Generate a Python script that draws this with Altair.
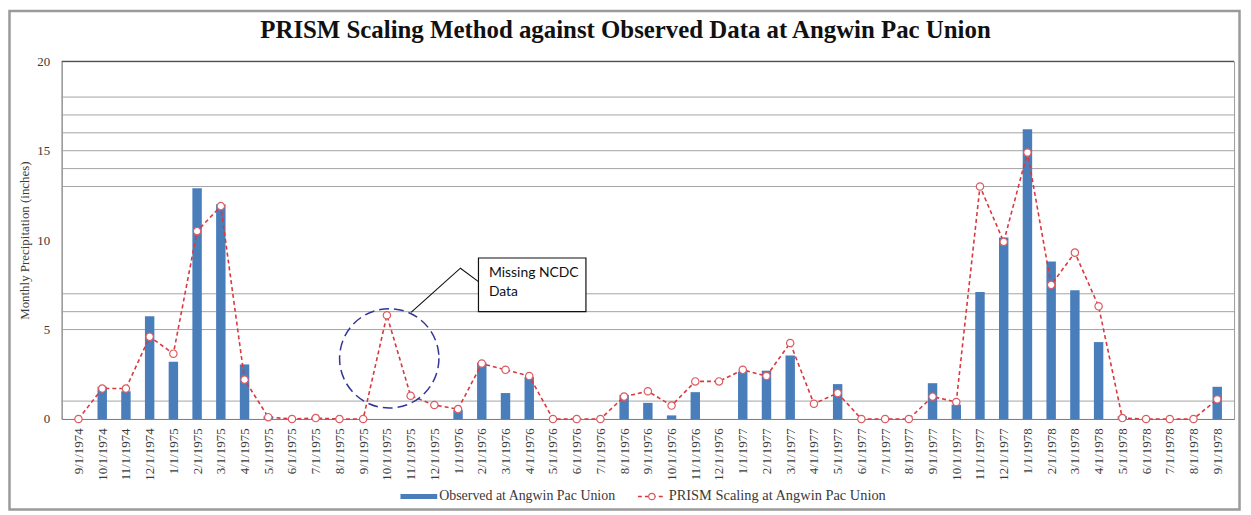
import json
import altair as alt
import pandas as pd

# ---------------- data ----------------
labels = [
    "9/1/1974", "10/1/1974", "11/1/1974", "12/1/1974",
    "1/1/1975", "2/1/1975", "3/1/1975", "4/1/1975", "5/1/1975", "6/1/1975",
    "7/1/1975", "8/1/1975", "9/1/1975", "10/1/1975", "11/1/1975", "12/1/1975",
    "1/1/1976", "2/1/1976", "3/1/1976", "4/1/1976", "5/1/1976", "6/1/1976",
    "7/1/1976", "8/1/1976", "9/1/1976", "10/1/1976", "11/1/1976", "12/1/1976",
    "1/1/1977", "2/1/1977", "3/1/1977", "4/1/1977", "5/1/1977", "6/1/1977",
    "7/1/1977", "8/1/1977", "9/1/1977", "10/1/1977", "11/1/1977", "12/1/1977",
    "1/1/1978", "2/1/1978", "3/1/1978", "4/1/1978", "5/1/1978", "6/1/1978",
    "7/1/1978", "8/1/1978", "9/1/1978",
]
observed = [
    0, 1.8, 1.55, 5.75,
    3.2, 12.9, 12.0, 3.05, 0.15, 0,
    0.05, 0, 0, None, None, None,
    0.5, 3.15, 1.45, 2.35, 0, 0,
    0, 1.35, 0.9, 0.2, 1.5, 0,
    2.65, 2.7, 3.55, 0, 1.95, 0,
    0, 0, 2.0, 0.8, 7.1, 10.15,
    16.2, 8.8, 7.2, 4.3, 0.15, 0,
    0, 0, 1.8,
]
prism = [
    0, 1.7, 1.7, 4.6,
    3.65, 10.5, 11.9, 2.2, 0.1, 0,
    0.05, 0, 0, 5.8, 1.3, 0.78,
    0.55, 3.1, 2.75, 2.4, 0, 0,
    0, 1.25, 1.55, 0.75, 2.1, 2.1,
    2.75, 2.4, 4.25, 0.85, 1.45, 0,
    0, 0, 1.25, 0.95, 13.0, 9.9,
    14.9, 7.5, 9.3, 6.3, 0.05, 0,
    0, 0, 1.1,
]
y_ticks = [0, 5, 10, 15, 20]
grid_light = [1, 5, 6, 7, 13, 14, 15, 16, 17, 18]
grid_dark = [20]

title_text = "PRISM Scaling Method against Observed Data at Angwin Pac Union"
obs_name = "Observed at Angwin Pac Union"
prism_name = "PRISM Scaling at Angwin Pac Union"
y_title = "Monthly Precipitation (inches)"
note_lines = ["Missing NCDC", "Data"]
# annotation anchors in data units (month index, inches)
note_circle = {"i": 13.1, "v": 3.39}
note_pointer = [(14.02, 5.96), (16.10, 8.43), (16.86, 7.68)]
note_box = {"i": 16.86, "i2": 21.39, "v": 6.0, "v2": 9.0}
note_text_i = 17.3
note_text_v = [8.17, 7.11]

# ---------------- tables ----------------
idx = list(range(len(labels)))
df = pd.DataFrame({"i": idx, "label": labels, "obs": observed, "prism": prism})
df_obs = df.dropna(subset=["obs"])
one = alt.Data(values=[{"k": 1}])

W, H = 1180, 360
SERIF = "Liberation Serif"
TXT = "#3a3a3a"

label_expr = json.dumps(labels) + "[datum.value]"

x_enc = alt.X(
    "i:Q",
    scale=alt.Scale(domain=[-0.5, len(labels) - 0.5], nice=False, zero=False),
    axis=alt.Axis(
        values=idx, labelExpr=label_expr, labelAngle=270, grid=False, ticks=False,
        labelFont=SERIF, labelFontSize=13, labelColor=TXT, labelPadding=9,
        domainColor="#7f7f7f", labelOverlap=False, labelBound=False, labelFlush=False,
    ),
    title=None,
)


def y_enc(field):
    return alt.Y(
        field,
        scale=alt.Scale(domain=[0, 20], nice=False),
        axis=alt.Axis(
            values=y_ticks, grid=False, ticks=False, labelFont=SERIF, labelFontSize=13,
            labelColor=TXT, labelPadding=12, domainColor="#8a8a8a",
            titleFont=SERIF, titleFontSize=13, titleFontWeight="normal", titleColor=TXT,
            titleX=-37, titleY=H / 2, titleAngle=270, titleBaseline="middle",
            titleAlign="center",
        ),
        title=y_title,
    )


grid_df = pd.DataFrame({"g": grid_light})
grid = alt.Chart(grid_df).mark_rule(color="#a3a3a3", strokeWidth=1).encode(y=y_enc("g:Q"))
grid_top = alt.Chart(pd.DataFrame({"g": grid_dark})).mark_rule(
    color="#505050", strokeWidth=1.2
).encode(y=y_enc("g:Q"))

bars = alt.Chart(df_obs).mark_bar(size=9.5, color="#4a7ebb").encode(
    x=x_enc, y=y_enc("obs:Q")
)
line = alt.Chart(df).mark_line(
    color="#d9383f", strokeWidth=1.6, strokeDash=[4, 3]
).encode(x=x_enc, y=y_enc("prism:Q"))
pts = alt.Chart(df).mark_point(
    shape="circle", size=55, filled=True, fill="white", stroke="#dd5a60",
    strokeWidth=1.2, opacity=1
).encode(x=x_enc, y=y_enc("prism:Q"))

# annotation: dashed circle, pointer, box and text (in data units)
circ = alt.Chart(pd.DataFrame([note_circle])).mark_point(
    shape="circle", size=100 * 100, filled=False, stroke="#34349a",
    strokeWidth=1.5, strokeDash=[10, 5], opacity=1
).encode(x=x_enc, y=y_enc("v:Q"))
ptr_df = pd.DataFrame({"i": [p[0] for p in note_pointer], "v": [p[1] for p in note_pointer],
                       "o": [0, 1, 2]})
ptr = alt.Chart(ptr_df).mark_line(color="#111111", strokeWidth=1.1).encode(
    x=x_enc, y=y_enc("v:Q"), order="o:Q"
)
box = alt.Chart(pd.DataFrame([note_box])).mark_rect(
    fill="white", stroke="#111111", strokeWidth=1.2
).encode(x=x_enc, x2="i2:Q", y=y_enc("v:Q"), y2="v2:Q")
note_df = pd.DataFrame({"i": [note_text_i] * 2, "v": note_text_v, "t": note_lines})
note = alt.Chart(note_df).mark_text(
    align="left", baseline="middle", font="Lato", fontSize=14, color="#111111"
).encode(x=x_enc, y=y_enc("v:Q"), text="t:N")

# legend (bottom, under plot)
leg_bar = alt.Chart(one).mark_rect(color="#4a7ebb").encode(
    x=alt.value(341), x2=alt.value(378), y=alt.value(435.5), y2=alt.value(440.5)
)
leg_bar_txt = alt.Chart(one).mark_text(
    align="left", baseline="middle", font=SERIF, fontSize=14, color=TXT, text=obs_name
).encode(x=alt.value(380), y=alt.value(438))
leg_line = alt.Chart(one).mark_rule(color="#d9383f", strokeWidth=1.5, strokeDash=[4, 3]).encode(
    x=alt.value(580), x2=alt.value(608), y=alt.value(438)
)
leg_pt = alt.Chart(one).mark_point(
    shape="circle", size=40, filled=True, fill="white", stroke="#dd5a60", strokeWidth=1.1, opacity=1
).encode(x=alt.value(594), y=alt.value(438))
leg_line_txt = alt.Chart(one).mark_text(
    align="left", baseline="middle", font=SERIF, fontSize=14.5, color=TXT, text=prism_name
).encode(x=alt.value(611), y=alt.value(438))

# outer frame and title
frame = alt.Chart(one).mark_rect(
    fill=None, stroke="#9a9a9a", strokeWidth=2.5
).encode(x=alt.value(-52.5), x2=alt.value(1185.5), y=alt.value(-50.5), y2=alt.value(451))
title = alt.Chart(one).mark_text(
    align="center", baseline="alphabetic", font=SERIF, fontSize=25, fontWeight="bold",
    color="#111111", text=title_text
).encode(x=alt.value(567.5), y=alt.value(-23))

chart = alt.layer(
    grid, grid_top, bars, line, pts, circ, ptr, box, note,
    leg_bar, leg_bar_txt, leg_line, leg_pt, leg_line_txt, frame, title,
).properties(
    width=W, height=H,
    autosize=alt.AutoSizeParams(type="none"),
    padding={"left": 54, "top": 52, "right": 9, "bottom": 93},
).configure_view(stroke="#9a9a9a", strokeWidth=1)

chart.save("out.html", embed_options={"renderer": "svg", "actions": False})
